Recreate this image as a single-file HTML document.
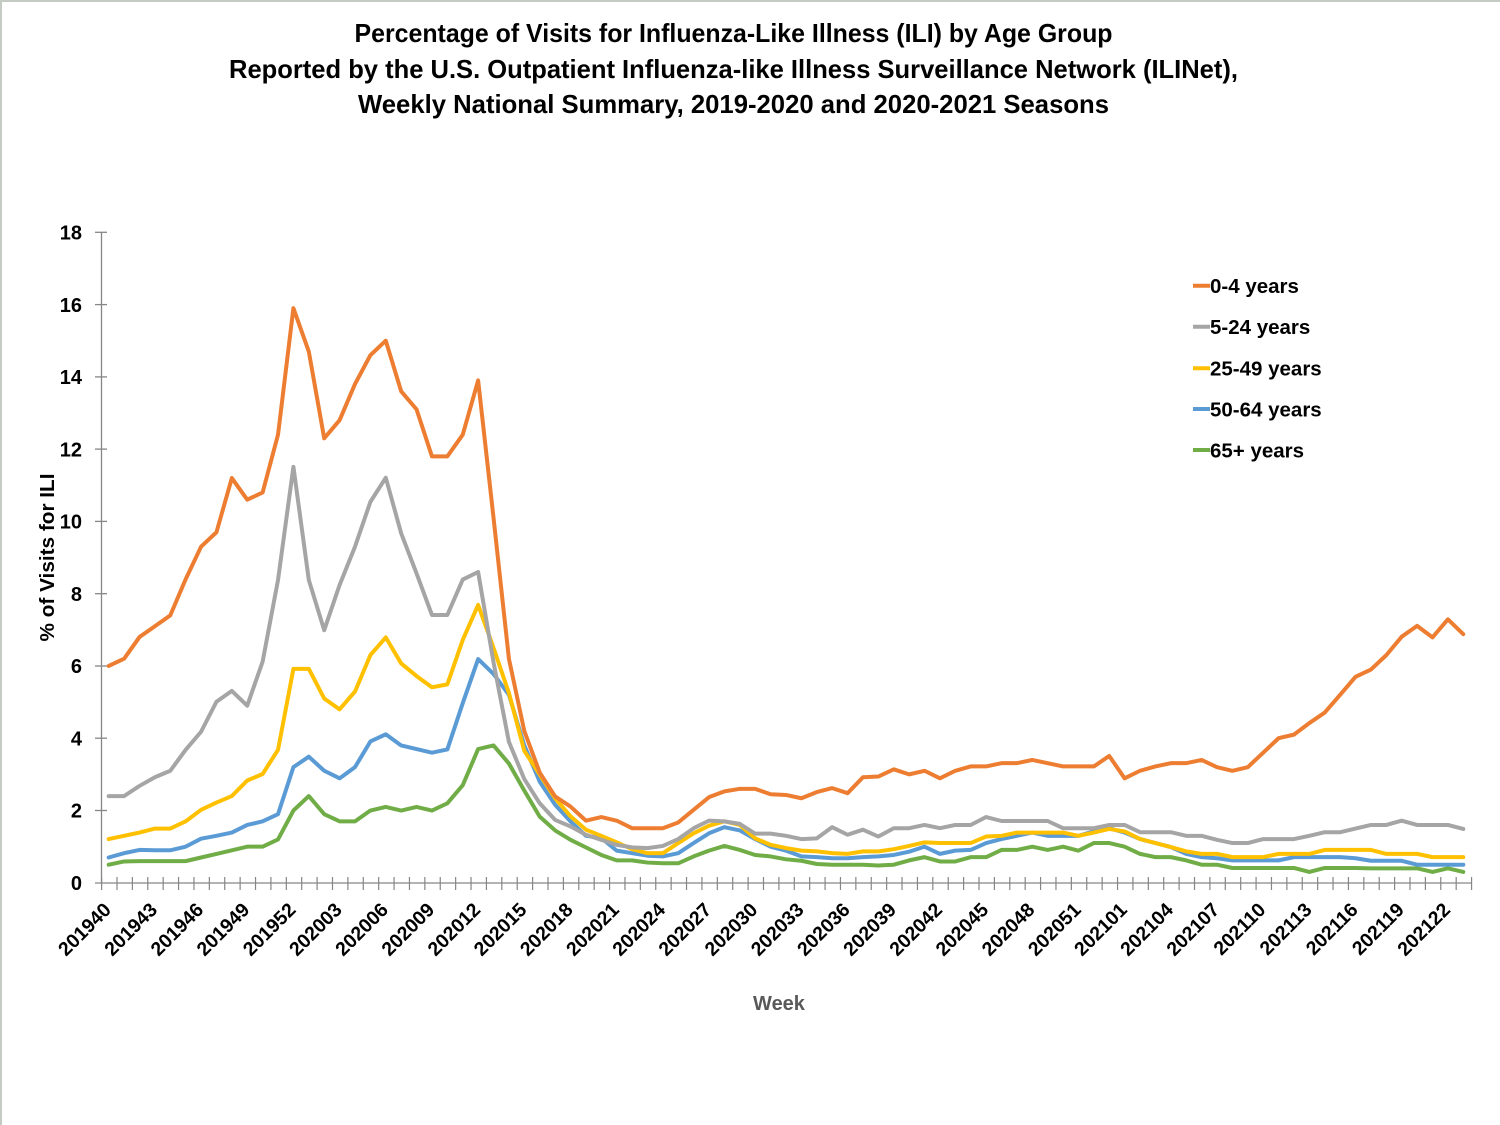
<!DOCTYPE html>
<html><head><meta charset="utf-8"><style>
html,body{margin:0;padding:0;background:#fff;}
svg{display:block;}
text{font-family:"Liberation Sans",Arial,sans-serif;font-weight:bold;}
</style></head><body>
<svg width="1500" height="1125" viewBox="0 0 1500 1125" xmlns="http://www.w3.org/2000/svg">
<rect x="0" y="0" width="1500" height="1125" fill="#fff"/>
<line x1="0" y1="1" x2="1500" y2="1" stroke="#c3cbc3" stroke-width="2"/>
<line x1="1" y1="0" x2="1" y2="1125" stroke="#c3cbc3" stroke-width="2"/>

<text x="733.5" y="42" font-size="26" text-anchor="middle" textLength="758" lengthAdjust="spacingAndGlyphs" fill="#000">Percentage of Visits for Influenza-Like Illness (ILI) by Age Group</text>
<text x="733.5" y="78" font-size="26" text-anchor="middle" textLength="1009" lengthAdjust="spacingAndGlyphs" fill="#000">Reported by the U.S. Outpatient Influenza-like Illness Surveillance Network (ILINet),</text>
<text x="733.5" y="113" font-size="26" text-anchor="middle" textLength="751" lengthAdjust="spacingAndGlyphs" fill="#000">Weekly National Summary, 2019-2020 and 2020-2021 Seasons</text>

<!-- axes -->
<line x1="101.5" y1="232" x2="101.5" y2="883" stroke="#868686" stroke-width="1.3"/>
<line x1="95" y1="883" x2="1472" y2="883" stroke="#868686" stroke-width="1.3"/>
<!-- x ticks -->
<line x1="101" y1="883.5" x2="1473" y2="883.5" stroke="#868686" stroke-width="13" stroke-dasharray="1.2 14.193"/>
<!-- y ticks -->
<g stroke="#868686" stroke-width="1.3">
<line x1="95" y1="232.3" x2="107" y2="232.3"/>
<line x1="95" y1="304.6" x2="107" y2="304.6"/>
<line x1="95" y1="376.9" x2="107" y2="376.9"/>
<line x1="95" y1="449.1" x2="107" y2="449.1"/>
<line x1="95" y1="521.4" x2="107" y2="521.4"/>
<line x1="95" y1="593.7" x2="107" y2="593.7"/>
<line x1="95" y1="666.0" x2="107" y2="666.0"/>
<line x1="95" y1="738.2" x2="107" y2="738.2"/>
<line x1="95" y1="810.5" x2="107" y2="810.5"/>
</g>
<!-- y labels -->
<g font-size="20" text-anchor="end" fill="#000">
<text x="82" y="239.5">18</text>
<text x="82" y="311.8">16</text>
<text x="82" y="384.1">14</text>
<text x="82" y="456.3">12</text>
<text x="82" y="528.6">10</text>
<text x="82" y="600.9">8</text>
<text x="82" y="673.2">6</text>
<text x="82" y="745.4">4</text>
<text x="82" y="817.7">2</text>
<text x="82" y="890">0</text>
</g>
<text transform="translate(54,557.5) rotate(-90)" font-size="20" text-anchor="middle" textLength="168" lengthAdjust="spacingAndGlyphs" fill="#000">% of Visits for ILI</text>

<!-- x labels -->
<g font-size="19.5" text-anchor="end" fill="#000">
<text transform="translate(112.2,911) rotate(-45)">201940</text>
<text transform="translate(158.4,911) rotate(-45)">201943</text>
<text transform="translate(204.6,911) rotate(-45)">201946</text>
<text transform="translate(250.7,911) rotate(-45)">201949</text>
<text transform="translate(296.9,911) rotate(-45)">201952</text>
<text transform="translate(343.1,911) rotate(-45)">202003</text>
<text transform="translate(389.3,911) rotate(-45)">202006</text>
<text transform="translate(435.5,911) rotate(-45)">202009</text>
<text transform="translate(481.6,911) rotate(-45)">202012</text>
<text transform="translate(527.8,911) rotate(-45)">202015</text>
<text transform="translate(574.0,911) rotate(-45)">202018</text>
<text transform="translate(620.2,911) rotate(-45)">202021</text>
<text transform="translate(666.4,911) rotate(-45)">202024</text>
<text transform="translate(712.5,911) rotate(-45)">202027</text>
<text transform="translate(758.7,911) rotate(-45)">202030</text>
<text transform="translate(804.9,911) rotate(-45)">202033</text>
<text transform="translate(851.1,911) rotate(-45)">202036</text>
<text transform="translate(897.3,911) rotate(-45)">202039</text>
<text transform="translate(943.4,911) rotate(-45)">202042</text>
<text transform="translate(989.6,911) rotate(-45)">202045</text>
<text transform="translate(1035.8,911) rotate(-45)">202048</text>
<text transform="translate(1082.0,911) rotate(-45)">202051</text>
<text transform="translate(1128.2,911) rotate(-45)">202101</text>
<text transform="translate(1174.3,911) rotate(-45)">202104</text>
<text transform="translate(1220.5,911) rotate(-45)">202107</text>
<text transform="translate(1266.7,911) rotate(-45)">202110</text>
<text transform="translate(1312.9,911) rotate(-45)">202113</text>
<text transform="translate(1359.1,911) rotate(-45)">202116</text>
<text transform="translate(1405.2,911) rotate(-45)">202119</text>
<text transform="translate(1451.4,911) rotate(-45)">202122</text>
</g>
<text x="779" y="1010" font-size="20" text-anchor="middle" fill="#595959">Week</text>

<!-- series -->
<g transform="translate(108.7,882.8) scale(15.393,-36.14)" fill="none" stroke-width="4" stroke-linejoin="round" stroke-linecap="round">
<polyline vector-effect="non-scaling-stroke" stroke="#70AD47" points="0,0.5 1,0.59 2,0.6 3,0.6 4,0.6 5,0.6 6,0.7 7,0.8 8,0.9 9,1.0 10,1.0 11,1.2 12,2.0 13,2.4 14,1.9 15,1.7 16,1.7 17,2.0 18,2.1 19,2.0 20,2.1 21,2.0 22,2.2 23,2.7 24,3.7 25,3.8 26,3.3 27,2.55 28,1.83 29,1.45 30,1.19 31,0.98 32,0.77 33,0.62 34,0.62 35,0.56 36,0.54 37,0.54 38,0.73 39,0.89 40,1.02 41,0.91 42,0.77 43,0.73 44,0.65 45,0.61 46,0.52 47,0.5 48,0.5 49,0.5 50,0.48 51,0.5 52,0.62 53,0.71 54,0.59 55,0.59 56,0.71 57,0.71 58,0.91 59,0.91 60,1.0 61,0.91 62,1.0 63,0.89 64,1.1 65,1.1 66,1.0 67,0.8 68,0.71 69,0.71 70,0.62 71,0.5 72,0.5 73,0.41 74,0.41 75,0.41 76,0.41 77,0.41 78,0.3 79,0.41 80,0.41 81,0.41 82,0.4 83,0.4 84,0.4 85,0.4 86,0.3 87,0.4 88,0.3"/>
<polyline vector-effect="non-scaling-stroke" stroke="#5B9BD5" points="0,0.7 1,0.82 2,0.91 3,0.9 4,0.9 5,1.0 6,1.22 7,1.3 8,1.39 9,1.6 10,1.7 11,1.9 12,3.2 13,3.49 14,3.1 15,2.89 16,3.2 17,3.91 18,4.11 19,3.8 20,3.7 21,3.6 22,3.69 23,4.97 24,6.19 25,5.78 26,5.2 27,3.8 28,2.8 29,2.16 30,1.7 31,1.3 32,1.24 33,0.89 34,0.82 35,0.75 36,0.73 37,0.82 38,1.1 39,1.37 40,1.54 41,1.45 42,1.21 43,1.0 44,0.89 45,0.73 46,0.71 47,0.68 48,0.68 49,0.71 50,0.73 51,0.77 52,0.86 53,1.0 54,0.8 55,0.89 56,0.91 57,1.1 58,1.21 59,1.3 60,1.39 61,1.3 62,1.3 63,1.3 64,1.42 65,1.51 66,1.39 67,1.21 68,1.1 69,0.99 70,0.8 71,0.71 72,0.68 73,0.62 74,0.62 75,0.62 76,0.62 77,0.71 78,0.71 79,0.71 80,0.71 81,0.68 82,0.61 83,0.61 84,0.61 85,0.5 86,0.5 87,0.5 88,0.5"/>
<polyline vector-effect="non-scaling-stroke" stroke="#FFC000" points="0,1.21 1,1.3 2,1.39 3,1.5 4,1.5 5,1.7 6,2.02 7,2.22 8,2.4 9,2.83 10,3.01 11,3.68 12,5.92 13,5.92 14,5.1 15,4.8 16,5.29 17,6.3 18,6.79 19,6.07 20,5.72 21,5.41 22,5.49 23,6.72 24,7.69 25,6.5 26,5.25 27,3.65 28,3.0 29,2.34 30,1.84 31,1.47 32,1.3 33,1.12 34,0.93 35,0.82 36,0.82 37,1.1 38,1.37 39,1.58 40,1.7 41,1.6 42,1.23 43,1.05 44,0.96 45,0.89 46,0.87 47,0.82 48,0.8 49,0.87 50,0.87 51,0.93 52,1.02 53,1.12 54,1.1 55,1.1 56,1.1 57,1.28 58,1.3 59,1.39 60,1.39 61,1.39 62,1.39 63,1.3 64,1.39 65,1.49 66,1.42 67,1.21 68,1.1 69,0.99 70,0.87 71,0.8 72,0.8 73,0.71 74,0.71 75,0.71 76,0.8 77,0.8 78,0.8 79,0.91 80,0.91 81,0.91 82,0.91 83,0.8 84,0.8 85,0.8 86,0.71 87,0.71 88,0.71"/>
<polyline vector-effect="non-scaling-stroke" stroke="#A5A5A5" points="0,2.4 1,2.4 2,2.68 3,2.92 4,3.1 5,3.68 6,4.18 7,5.01 8,5.31 9,4.9 10,6.12 11,8.38 12,11.51 13,8.38 14,6.99 15,8.24 16,9.3 17,10.54 18,11.21 19,9.67 20,8.56 21,7.41 22,7.41 23,8.39 24,8.6 25,6.1 26,3.9 27,2.87 28,2.2 29,1.74 30,1.56 31,1.33 32,1.19 33,1.05 34,0.98 35,0.96 36,1.02 37,1.21 38,1.51 39,1.72 40,1.7 41,1.63 42,1.36 43,1.36 44,1.3 45,1.21 46,1.23 47,1.54 48,1.33 49,1.47 50,1.28 51,1.51 52,1.51 53,1.6 54,1.51 55,1.6 56,1.6 57,1.82 58,1.71 59,1.71 60,1.71 61,1.71 62,1.51 63,1.51 64,1.51 65,1.6 66,1.6 67,1.4 68,1.4 69,1.4 70,1.3 71,1.3 72,1.19 73,1.1 74,1.1 75,1.21 76,1.21 77,1.21 78,1.3 79,1.4 80,1.4 81,1.5 82,1.6 83,1.6 84,1.72 85,1.6 86,1.6 87,1.6 88,1.49"/>
<polyline vector-effect="non-scaling-stroke" stroke="#ED7D31" points="0,6.0 1,6.2 2,6.8 3,7.1 4,7.4 5,8.4 6,9.3 7,9.7 8,11.2 9,10.6 10,10.8 11,12.4 12,15.9 13,14.7 14,12.3 15,12.8 16,13.8 17,14.6 18,15.0 19,13.6 20,13.1 21,11.8 22,11.8 23,12.4 24,13.9 25,10.1 26,6.2 27,4.2 28,3.05 29,2.39 30,2.11 31,1.72 32,1.82 33,1.72 34,1.51 35,1.51 36,1.51 37,1.67 38,2.02 39,2.37 40,2.53 41,2.6 42,2.6 43,2.45 44,2.43 45,2.34 46,2.51 47,2.62 48,2.48 49,2.92 50,2.94 51,3.14 52,3.0 53,3.1 54,2.89 55,3.1 56,3.22 57,3.22 58,3.31 59,3.31 60,3.4 61,3.31 62,3.22 63,3.22 64,3.22 65,3.51 66,2.89 67,3.1 68,3.22 69,3.31 70,3.31 71,3.4 72,3.2 73,3.1 74,3.2 75,3.6 76,4.0 77,4.1 78,4.42 79,4.71 80,5.2 81,5.7 82,5.9 83,6.3 84,6.81 85,7.11 86,6.79 87,7.29 88,6.88"/>
</g>

<!-- legend -->
<g stroke-width="4">
<line x1="1193" y1="285.7" x2="1210" y2="285.7" stroke="#ED7D31"/>
<line x1="1193" y1="326.7" x2="1210" y2="326.7" stroke="#A5A5A5"/>
<line x1="1193" y1="368.3" x2="1210" y2="368.3" stroke="#FFC000"/>
<line x1="1193" y1="409" x2="1210" y2="409" stroke="#5B9BD5"/>
<line x1="1193" y1="450" x2="1210" y2="450" stroke="#70AD47"/>
</g>
<g font-size="20.5" fill="#000">
<text x="1210" y="293">0-4 years</text>
<text x="1210" y="334">5-24 years</text>
<text x="1210" y="375.6">25-49 years</text>
<text x="1210" y="416.3">50-64 years</text>
<text x="1210" y="457.3">65+ years</text>
</g>
</svg>
</body></html>
